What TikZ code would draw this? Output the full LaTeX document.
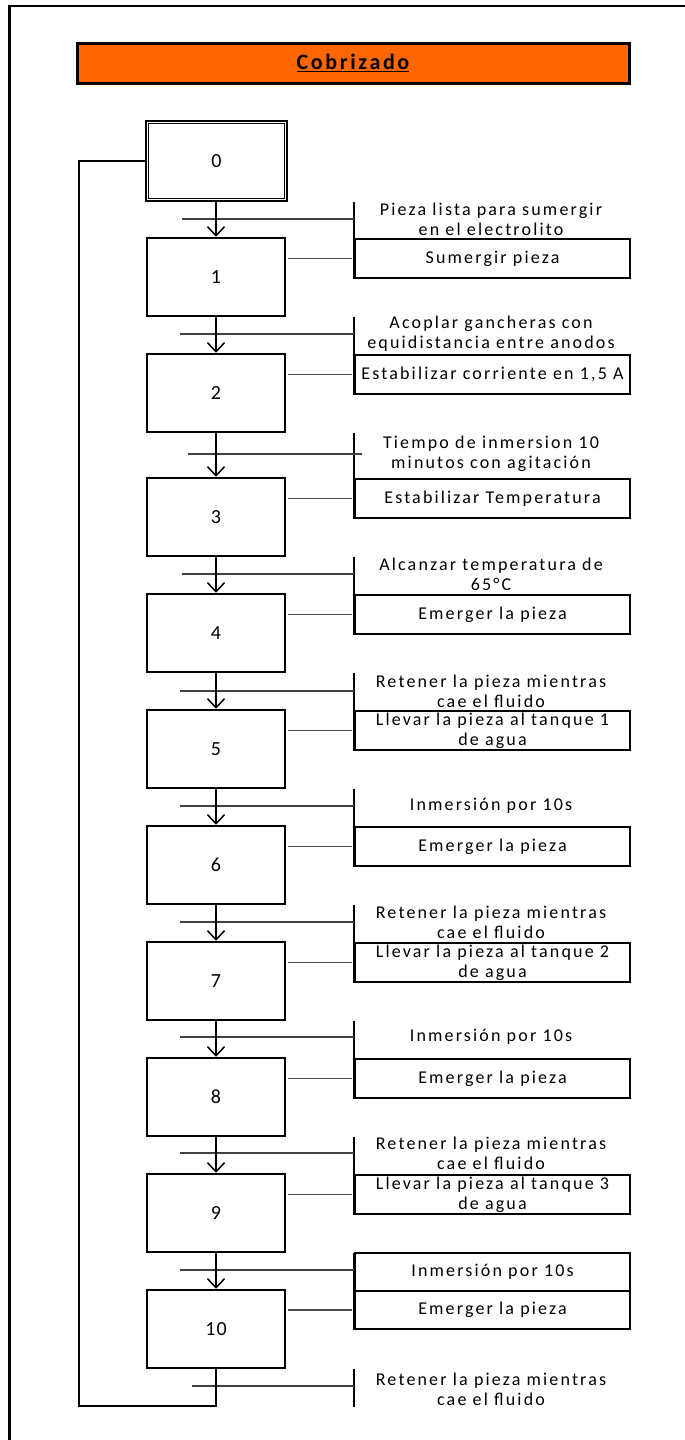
\documentclass[tikz,border=0pt]{standalone}
\usepackage{fontspec}
\setmainfont{Carlito}
\newfontfamily\lblfont[LetterSpace=12]{Carlito}
\newfontfamily\numfont[LetterSpace=5]{Carlito}
\newfontfamily\ttlfont[LetterSpace=12]{Carlito}
\usetikzlibrary{arrows.meta}
\definecolor{titleorange}{HTML}{FF6600}
\begin{document}
\begin{tikzpicture}[x=1pt,y=-1pt,
  stepbox/.style={draw,line width=2.5pt,minimum width=138pt,minimum height=78pt,inner sep=0pt,font=\numfont\fontsize{20}{20}\selectfont},
  actbox/.style={draw,line width=2pt,minimum width=275pt,minimum height=39pt,inner sep=0pt,align=center,anchor=north west,font=\lblfont\fontsize{18}{20}\selectfont},
  cond/.style={align=center,inner sep=0pt,font=\lblfont\fontsize{18}{20}\selectfont},
  flow/.style={line width=1.6pt,-{Straight Barb[length=9pt,width=17pt,line width=1.5pt]}},
  trans/.style={line width=1.3pt,draw=black!75},
  link/.style={line width=1.3pt,draw=black!70},
  bar/.style={line width=2pt},
  loopline/.style={line width=2.4pt},
  frame/.style={line width=2.4pt},
]
\useasboundingbox (0,0) rectangle (685,1440);
\draw[frame] (9.6,1440) -- (9.6,6) -- (685,6);

% title
\node[draw,line width=3pt,fill=titleorange,minimum width=552pt,minimum height=40pt,inner sep=0pt,font=\ttlfont\bfseries\fontsize{22}{22}\selectfont] (title) at (353,63) {\underline{Cobrizado}};

% initial step
\node[stepbox,minimum width=141pt,minimum height=80pt] (s0) at (216.5,161) {0};
\draw[line width=1pt] ([shift={(3.5,3.5)}]s0.north west) rectangle ([shift={(-3.5,-3.5)}]s0.south east);

% steps
\foreach \k/\T in {1/238,2/354,3/478,4/594,5/710,6/826,7/942,8/1058,9/1174,10/1290}
  \node[stepbox] (s\k) at (216,\T+39) {\k};

% actions
\node[actbox] (a1) at (354,238) {Sumergir pieza};
\node[actbox] (a2) at (354,354) {Estabilizar corriente en 1,5 A};
\node[actbox] (a3) at (354,478) {Estabilizar Temperatura};
\node[actbox] (a4) at (354,594) {Emerger la pieza};
\node[actbox] (a5) at (354,710) {Llevar la pieza al tanque 1\\de agua};
\node[actbox] (a6) at (354,826) {Emerger la pieza};
\node[actbox] (a7) at (354,942) {Llevar la pieza al tanque 2\\de agua};
\node[actbox] (a8) at (354,1058) {Emerger la pieza};
\node[actbox] (a9) at (354,1174) {Llevar la pieza al tanque 3\\de agua};
\node[actbox,minimum height=38pt] (c10) at (354,1252) {Inmersión por 10s};
\node[actbox,minimum height=38pt] (a10) at (354,1290) {Emerger la pieza};

% transitions, bars, arrows, links
\foreach \k/\p/\t/\xs/\xe in {1/0/219/182/354,2/1/334/180/354,3/2/454/188/362,4/3/574/182/354,5/4/691/180/354,6/5/806/180/354,7/6/922/180/354,8/7/1037/180/354,9/8/1153/180/354,10/9/1270/180/354}{
  \coordinate (b\k) at (s\p.south -| a\k.west);
  \draw[bar] (b\k) -- (a\k.south west);
  \coordinate (t\k) at (\xs,\t);
  \coordinate (u\k) at (\xe,\t);
  \draw[trans] (t\k) -- (u\k);
  \draw[flow] (s\p.south -| s\k.north) -- (s\k.north);
  \draw[link] ([xshift=2pt]s\k.east |- a\k.west) -- ([xshift=-2pt]a\k.west);
}

% conditions
\node[cond] (c1) at (491,219) {Pieza lista para sumergir\\en el electrolito};
\node[cond] (c2) at (491,334) {Acoplar gancheras con\\equidistancia entre anodos};
\node[cond] (c3) at (491,454) {Tiempo de inmersion 10\\minutos con agitación};
\node[cond] (c4) at (491,574) {Alcanzar temperatura de\\65°C};
\node[cond] (c5) at (491,691) {Retener la pieza mientras\\cae el fluido};
\node[cond] (c6) at (491,806) {Inmersión por 10s};
\node[cond] (c7) at (491,922) {Retener la pieza mientras\\cae el fluido};
\node[cond] (c8) at (491,1037) {Inmersión por 10s};
\node[cond] (c9) at (491,1153) {Retener la pieza mientras\\cae el fluido};

% final transition
\coordinate (b11) at (s10.south -| a10.west);
\coordinate (e11) at (354,1407);
\draw[bar] (b11) -- (e11);
\coordinate (t11) at (192,1386);
\draw[trans] (t11) -- (t11 -| b11);
\node[cond] (c11) at (491,1389) {Retener la pieza mientras\\cae el fluido};

% loop back
\coordinate (lp) at (79,1406);
\draw[loopline] (s10.south) |- (lp) |- (s0.west);
\end{tikzpicture}
\end{document}
